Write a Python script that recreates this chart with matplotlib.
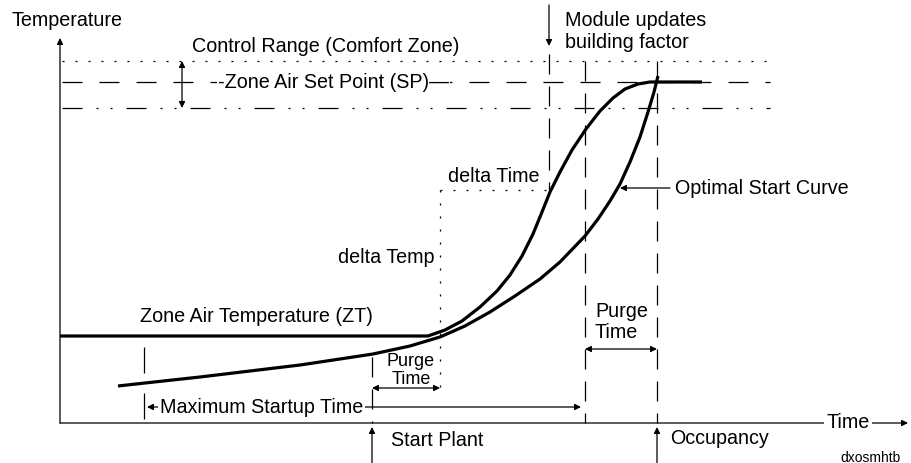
import matplotlib
matplotlib.use('Agg')
import matplotlib.pyplot as plt

plt.rcParams['font.family'] = ['Liberation Sans', 'DejaVu Sans']
plt.rcParams['lines.scale_dashes'] = False

# diagram coordinates, in pixels of the 912x464 picture (y grows downward)
axis_x0, axis_y0 = 60, 424
axis_top, axis_right = 39, 908

control_top_y = 62
set_point_y = 83
control_bottom_y = 109
ref_line_x = [62, 770]

# zone air temperature / fast curve
zt_x = [60, 428, 445, 462, 480, 497, 510, 522, 533, 542, 550, 560, 572, 586,
        600, 613, 625, 638, 650, 702]
zt_y = [337, 337, 331, 322, 308, 292, 276, 257, 235, 213, 193, 173, 151, 130,
        112, 99, 90, 85, 83, 83]

# optimal start curve
opt_x = [118, 145, 200, 250, 300, 340, 373, 410, 440, 465, 490, 515, 540, 560,
         585, 598, 610, 620, 630, 640, 648, 654, 658]
opt_y = [387, 384, 378, 372, 366, 360, 355, 347, 338, 327, 313, 297, 280, 263,
         237, 220, 202, 185, 163, 138, 113, 93, 77]

module_x = 549
delta_x, delta_y = 440, 191
start_plant_x = 372
max_start_x = 145
purge_end_x = 585
occupancy_x = 657

px = 0.72  # pixel -> point at 100 dpi
dotted = (0, (2 * px, 11 * px))
dashed = (0, (20 * px, 17 * px))
dashdot = (0, (20 * px, 14 * px, 2 * px, 12 * px, 2 * px, 14 * px))
vdashed = (0, (20 * px, 12 * px))

fig = plt.figure(figsize=(9.12, 4.64), dpi=100)
ax = fig.add_axes([0, 0, 1, 1])
ax.set_xlim(0, 912)
ax.set_ylim(464, 0)
ax.axis('off')

thin = 0.9
fs = 14.2


def arrow(tip, tail, style='-|>'):
    ax.annotate('', xy=tip, xytext=tail,
                arrowprops=dict(arrowstyle=style, lw=thin, color='black',
                                mutation_scale=9, shrinkA=0, shrinkB=0))


# axes
arrow((axis_x0, axis_top), (axis_x0, axis_y0))
arrow((axis_right, axis_y0), (axis_x0, axis_y0))
ax.text(12, 20, 'Temperature', fontsize=fs, va='center', ha='left')
ax.text(848, axis_y0 - 1, 'Time', fontsize=fs, va='center', ha='center',
        bbox=dict(facecolor='white', edgecolor='none', pad=1.5))

# control range lines
ax.plot(ref_line_x, [control_top_y] * 2, color='black', lw=thin, linestyle=dotted)
ax.plot(ref_line_x, [set_point_y] * 2, color='black', lw=thin, linestyle=dashed)
ax.plot(ref_line_x, [control_bottom_y] * 2, color='black', lw=thin, linestyle=dashdot)
arrow((182, control_top_y), (182, control_bottom_y), style='<|-|>')
ax.text(192, 46, 'Control Range (Comfort Zone)', fontsize=fs, va='center', ha='left')
ax.text(218, set_point_y, '-Zone Air Set Point (SP)\u2014', fontsize=fs, va='center',
        ha='left', bbox=dict(facecolor='white', edgecolor='none', pad=1))

# module updates building factor
arrow((module_x, 47), (module_x, 6))
ax.plot([module_x, module_x], [55, delta_y], color='black', lw=thin, linestyle=vdashed)
ax.text(565, 20, 'Module updates', fontsize=fs, va='center', ha='left')
ax.text(565, 42, 'building factor', fontsize=fs, va='center', ha='left')

# delta lines
ax.plot([delta_x, module_x], [delta_y, delta_y], color='black', lw=thin, linestyle=dotted)
ax.plot([delta_x, delta_x], [delta_y, 392], color='black', lw=thin, linestyle=dotted)
ax.text(448, 177, 'delta Time', fontsize=fs, va='center', ha='left')
ax.text(435, 258, 'delta Temp', fontsize=fs, va='center', ha='right')

# purge / occupancy verticals
ax.plot([purge_end_x] * 2, [control_top_y, axis_y0], color='black', lw=thin, linestyle=vdashed)
ax.plot([occupancy_x] * 2, [control_top_y, axis_y0], color='black', lw=thin, linestyle=vdashed)

# curves
ax.plot(zt_x, zt_y, color='black', lw=2.3, solid_joinstyle='round', solid_capstyle='butt')
ax.plot(opt_x, opt_y, color='black', lw=2.3, solid_joinstyle='round', solid_capstyle='butt')
ax.text(140, 317, 'Zone Air Temperature (ZT)', fontsize=fs, va='center', ha='left')

arrow((620, 189), (670, 189))
ax.text(675, 189, 'Optimal Start Curve', fontsize=fs, va='center', ha='left')

# small purge time
ax.plot([start_plant_x] * 2, [358, axis_y0], color='black', lw=thin, linestyle=vdashed)
arrow((start_plant_x, 389), (delta_x, 389), style='<|-|>')
ax.text(411, 362, 'Purge', fontsize=13, va='center', ha='center')
ax.text(411, 380, 'Time', fontsize=13, va='center', ha='center')

# big purge time
arrow((purge_end_x, 350), (occupancy_x, 350), style='<|-|>')
ax.text(595, 312, 'Purge', fontsize=fs, va='center', ha='left')
ax.text(595, 333, 'Time', fontsize=fs, va='center', ha='left')

# maximum startup time
ax.plot([max_start_x - 1] * 2, [348, axis_y0], color='black', lw=thin, linestyle=(0, (26 * px, 20 * px)))
arrow((max_start_x + 2, 408), (purge_end_x - 4, 408), style='<|-|>')
ax.text(160, 408, 'Maximum Startup Time', fontsize=fs, va='center', ha='left',
        bbox=dict(facecolor='white', edgecolor='none', pad=1.5))

# bottom markers
arrow((start_plant_x, 428), (start_plant_x, 466))
ax.text(391, 441, 'Start Plant', fontsize=fs, va='center', ha='left')
arrow((occupancy_x, 428), (occupancy_x, 466))
ax.text(670, 439, 'Occupancy', fontsize=fs, va='center', ha='left')
ax.text(840, 458, 'dxosmhtb', fontsize=10, va='center', ha='left')

fig.savefig('out.png', dpi=100)
